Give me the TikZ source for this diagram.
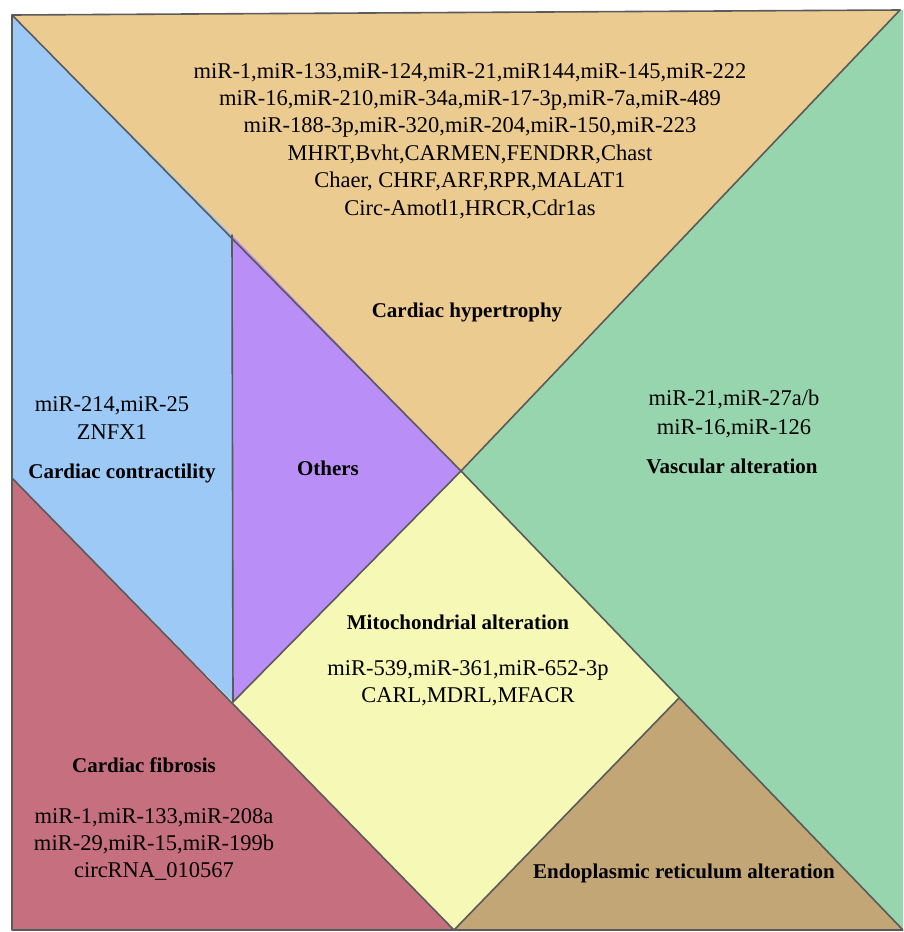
\documentclass[tikz,border=0pt]{standalone}
\usepackage{fontspec}
\setmainfont{Liberation Serif}
\definecolor{corange}{HTML}{EBCB8F}
\definecolor{cblue}{HTML}{9DC9F6}
\definecolor{cpurple}{HTML}{B98EF7}
\definecolor{cgreen}{HTML}{96D5AE}
\definecolor{cyellow}{HTML}{F6F8B6}
\definecolor{cred}{HTML}{C6707F}
\definecolor{ctan}{HTML}{C2A676}
\definecolor{cedge}{HTML}{5A5A5A}
\begin{document}
\begin{tikzpicture}[x=1pt,y=-1pt,
  edgeline/.style={draw=cedge, line width=1.6pt, line join=round, line cap=round},
  lst/.style={font=\fontsize{22.5}{27.4}\selectfont, align=center, inner sep=0pt, anchor=base},
  ttl/.style={font=\fontsize{21}{25}\selectfont\bfseries, inner sep=0pt, anchor=base}]
\useasboundingbox (0,0) rectangle (903,932);
\fill[white] (0,0) rectangle (903,932);
\begin{scope}
\clip (0,0) rectangle (903,932);
\coordinate (A) at (12,15);
\coordinate (B) at (900,10);
\coordinate (C) at (461,471);
\coordinate (D) at (12,478);
\coordinate (E) at (232,235);
\coordinate (F) at (233,702);
\coordinate (G) at (679,698);
\coordinate (H) at (454,930);
\coordinate (I) at (903,930);
\coordinate (J) at (12,930);
\coordinate (K) at (910,10);
\coordinate (L) at (910,930);
% pieces
\fill[corange] (A) -- (B) -- (C) -- cycle;
\fill[cblue] (A) -- (E) -- (F) -- (D) -- cycle;
\fill[cpurple] (E) -- (C) -- (F) -- cycle;
\fill[cyellow] (C) -- (G) -- (H) -- (F) -- cycle;
\fill[cgreen] (B) -- (K) -- (L) -- (I) -- (G) -- (C) -- cycle;
\fill[ctan] (G) -- (I) -- (H) -- cycle;
\fill[cred] (D) -- (H) -- (J) -- cycle;
% outlines
\draw[edgeline] (B) -- (A) -- (J) -- (I);
\draw[edgeline] (A) -- (C);
\draw[edgeline] (B) -- (C);
\draw[edgeline] (C) -- (I);
\draw[edgeline] (D) -- (H);
\draw[edgeline] (E) -- (F);
\draw[edgeline] (C) -- (F);
\draw[edgeline] (G) -- (H);
\end{scope}
% texts (anchor base = baseline of the last line)
\node[lst] (hyplist) at (470,215) {miR-1,miR-133,miR-124,miR-21,miR144,miR-145,miR-222\\miR-16,miR-210,miR-34a,miR-17-3p,miR-7a,miR-489\\miR-188-3p,miR-320,miR-204,miR-150,miR-223\\MHRT,Bvht,CARMEN,FENDRR,Chast\\Chaer, CHRF,ARF,RPR,MALAT1\\Circ-Amotl1,HRCR,Cdr1as};
\node[ttl] (hyp) at (467,317) {Cardiac hypertrophy};
\node[lst] (conlist) at (112,439) {miR-214,miR-25\\ZNFX1};
\node[ttl] (con) at (122,478) {Cardiac contractility};
\node[ttl] (oth) at (328,475) {Others};
\node[lst, font=\fontsize{22.5}{28.5}\selectfont] (vaslist) at (734,434) {miR-21,miR-27a/b\\miR-16,miR-126};
\node[ttl] (vas) at (732,473) {Vascular alteration};
\node[ttl] (mit) at (458,629) {Mitochondrial alteration};
\node[lst, font=\fontsize{22.5}{27}\selectfont] (mitlist) at (468,702) {miR-539,miR-361,miR-652-3p\\CARL,MDRL,MFACR};
\node[ttl] (er) at (684,878) {Endoplasmic reticulum alteration};
\node[ttl] (fib) at (144,772) {Cardiac fibrosis};
\node[lst, font=\fontsize{22.5}{27}\selectfont] (fiblist) at (154,877) {miR-1,miR-133,miR-208a\\miR-29,miR-15,miR-199b\\circRNA\_010567};
\end{tikzpicture}
\end{document}
